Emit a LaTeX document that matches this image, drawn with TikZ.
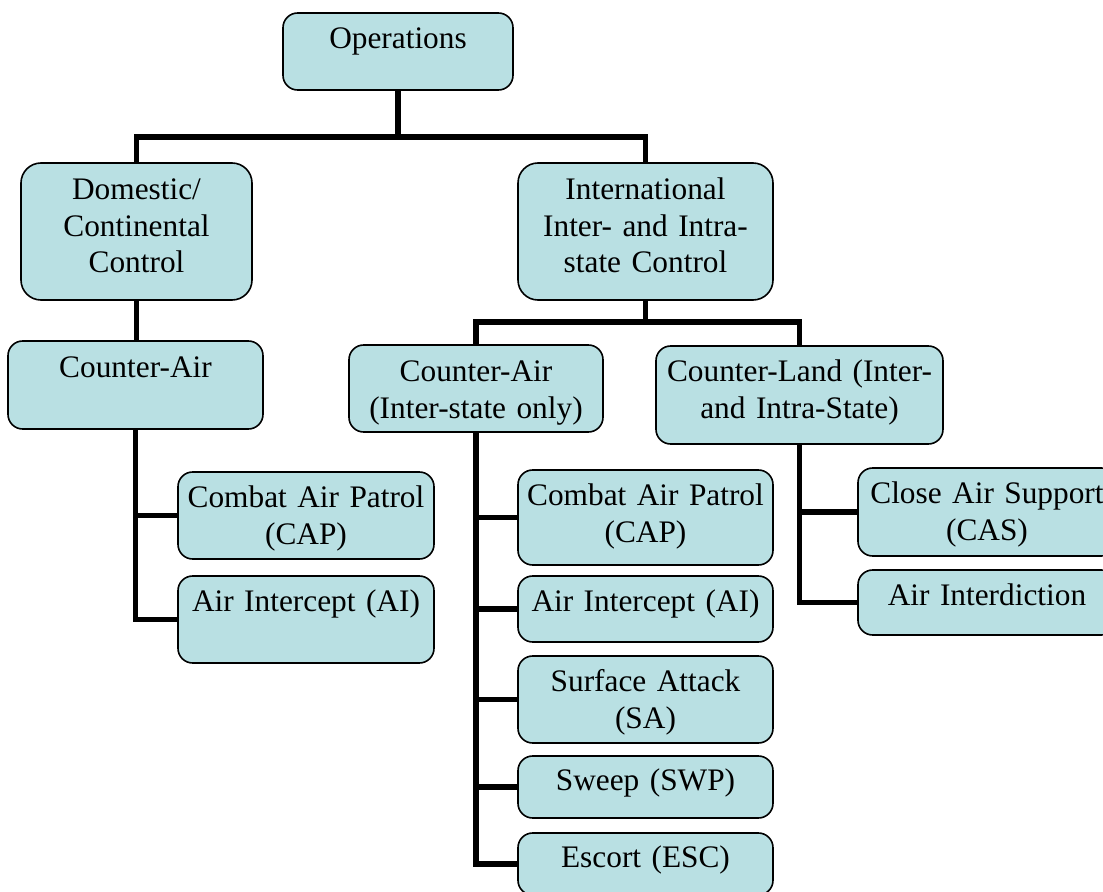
\documentclass[tikz,border=0pt]{standalone}
\usepackage{fontspec}
\setmainfont{Liberation Serif}
\definecolor{boxfill}{RGB}{185,224,227}
\tikzset{
  box/.style={draw=black, line width=1.2pt, fill=boxfill, rounded corners=11pt, inner sep=0pt, shape=rectangle},
  lbl/.style={anchor=base, inner sep=0pt, align=center, text width=240pt, font=\fontsize{23.5pt}{27.5pt}\selectfont},
  conn/.style={draw=black, line width=3.8pt}
}
\begin{document}
\begin{tikzpicture}[x=0.75pt,y=-0.75pt]
\useasboundingbox (0,0) rectangle (1103,892);
\clip (0,0) rectangle (1103,892);
% boxes
\node[box, minimum width={230*0.75pt}, minimum height={77*0.75pt}] (ops) at (398,51.5) {};
\node[box, rounded corners=15pt, minimum width={231*0.75pt}, minimum height={137*0.75pt}] (dom) at (136.5,231.5) {};
\node[box, rounded corners=15pt, minimum width={255*0.75pt}, minimum height={137*0.75pt}] (intl) at (645.5,231.5) {};
\node[box, minimum width={255*0.75pt}, minimum height={88*0.75pt}] (ca1) at (135.5,385) {};
\node[box, minimum width={254*0.75pt}, minimum height={87*0.75pt}] (ca2) at (476,388.5) {};
\node[box, minimum width={287*0.75pt}, minimum height={98*0.75pt}] (cl) at (799.5,395) {};
\node[box, minimum width={256*0.75pt}, minimum height={87*0.75pt}] (cap1) at (306,515.5) {};
\node[box, minimum width={256*0.75pt}, minimum height={87*0.75pt}] (ai1) at (306,619.5) {};
\node[box, minimum width={255*0.75pt}, minimum height={95*0.75pt}] (cap2) at (645.5,517.5) {};
\node[box, minimum width={255*0.75pt}, minimum height={66*0.75pt}] (ai2) at (645.5,609) {};
\node[box, minimum width={255*0.75pt}, minimum height={87*0.75pt}] (sa) at (645.5,699.5) {};
\node[box, minimum width={255*0.75pt}, minimum height={62*0.75pt}] (swp) at (645.5,787) {};
\node[box, minimum width={255*0.75pt}, minimum height={62*0.75pt}] (esc) at (645.5,864) {};
\node[box, minimum width={258*0.75pt}, minimum height={88*0.75pt}] (cas) at (987,512) {};
\node[box, minimum width={258*0.75pt}, minimum height={65*0.75pt}] (aint) at (987,602.5) {};
% labels
\node[lbl] (opsT) at (398,48.5) {Operations};
\node[lbl] (domT) at (136.5,199.5) {Domestic/\\Continental\\Control};
\node[lbl] (intlT) at (645.5,199.5) {International\\Inter- and Intra-\\state Control};
\node[lbl] (ca1T) at (135.5,377.5) {Counter-Air};
\node[lbl] (ca2T) at (476,381.5) {Counter-Air\\(Inter-state only)};
\node[lbl] (clT) at (799.5,381.5) {Counter-Land (Inter-\\and Intra-State)};
\node[lbl] (cap1T) at (306,507.5) {Combat Air Patrol\\(CAP)};
\node[lbl] (ai1T) at (306,611.5) {Air Intercept (AI)};
\node[lbl] (cap2T) at (645.5,505.5) {Combat Air Patrol\\(CAP)};
\node[lbl] (ai2T) at (645.5,611.5) {Air Intercept (AI)};
\node[lbl] (saT) at (645.5,691.5) {Surface Attack\\(SA)};
\node[lbl] (swpT) at (645.5,790.5) {Sweep (SWP)};
\node[lbl] (escT) at (645.5,867.5) {Escort (ESC)};
\node[lbl] (casT) at (987,503.5) {Close Air Support\\(CAS)};
\node[lbl] (aintT) at (987,605.5) {Air Interdiction};
% connectors
\coordinate (j1) at (398,137);
\coordinate (j2) at (645.5,322);
\draw[conn] (ops.south) -- (j1) -| (dom.north);
\draw[conn] (j1) -| (intl.north);
\draw[conn] (dom.south) -- (dom.south |- ca1.north);
\draw[conn] (intl.south) -- (j2) -| (ca2.north);
\draw[conn] (j2) -| (cl.north);
\draw[conn] (ca1.south) |- (cap1.west);
\draw[conn] (ca1.south) |- (ai1.west);
\draw[conn] (ca2.south) |- (cap2.west);
\draw[conn] (ca2.south) |- (ai2.west);
\draw[conn] (ca2.south) |- (sa.west);
\draw[conn] (ca2.south) |- (swp.west);
\draw[conn] (ca2.south) |- (esc.west);
\draw[conn] (cl.south) |- (cas.west);
\draw[conn] (cl.south) |- (aint.west);
\end{tikzpicture}
\end{document}
